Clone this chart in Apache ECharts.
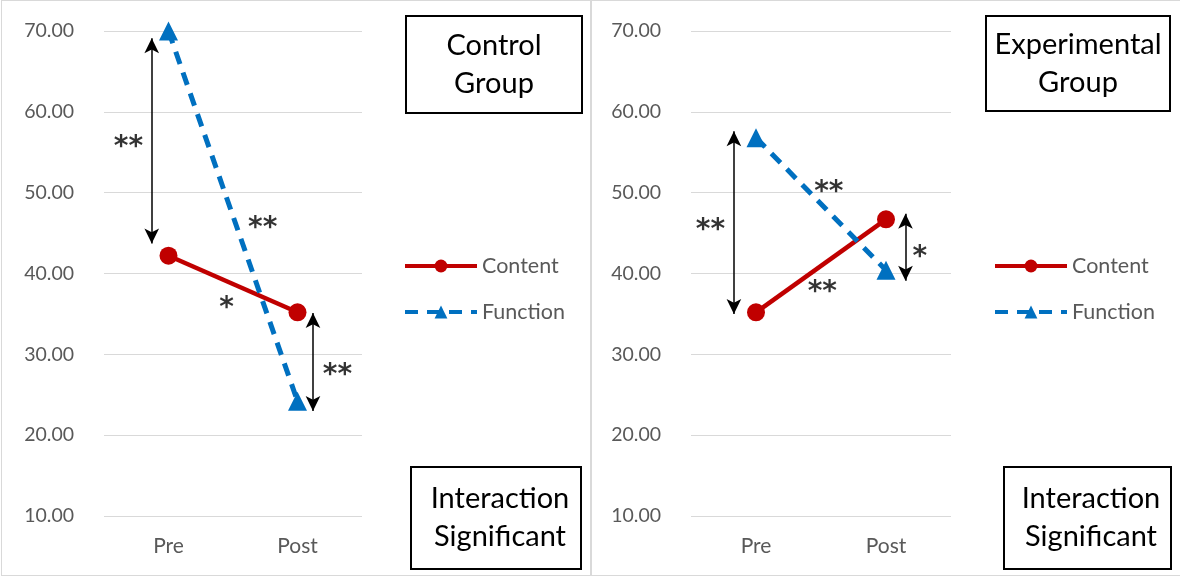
<!DOCTYPE html>
<html>
<head>
<meta charset="utf-8">
<script src="https://cdn.jsdelivr.net/npm/echarts@6/dist/echarts.min.js"></script>
<style>
  body { margin: 0; background: #fff; }
  .panel { position: absolute; top: 0; width: 588px; height: 574px; border: 1px solid #d9d9d9; background: #fff; }
</style>
</head>
<body>
<div id="left" class="panel" style="left:1px"></div>
<div id="right" class="panel" style="left:591px"></div>
<script>
// categories and means
const categories = ['Pre', 'Post'];
const controlContent = [42.2, 35.2];
const controlFunction = [70.0, 24.2];
const expContent = [35.2, 46.7];
const expFunction = [56.8, 40.4];

// significance arrows: [x position (Pre=0, Post=1), from, to]
const controlArrows = [[-0.13, 69.1, 43.7], [1.12, 35.1, 23.0]];
const expArrows = [[-0.17, 57.6, 35.0], [1.15, 47.4, 39.1]];
// star marks: [x, y, text]
const controlStars = [[-0.31, 55.6, '**'], [0.73, 45.5, '**'], [0.45, 35.7, '*'], [1.31, 27.3, '**']];
const expStars = [[0.56, 50.0, '**'], [-0.35, 45.3, '**'], [0.51, 37.6, '**'], [1.26, 42.0, '*']];

const FONT = 'Lato, "Noto Sans", sans-serif';

function box(x, y, w, h, txt, tx) {
  return {
    type: 'group',
    children: [
      { type: 'rect', shape: { x: x, y: y, width: w, height: h }, style: { fill: '#fff', stroke: '#000', lineWidth: 2 } },
      { type: 'text', x: tx, y: y + h / 2, style: { text: txt, font: '29px ' + FONT, fill: '#000', align: 'center', verticalAlign: 'middle', lineHeight: 38 } }
    ]
  };
}

function makeChart(el, content, func, arrows, stars, gridLeft, gridWidth, boxes) {
  const chart = echarts.init(document.getElementById(el));
  const option = {
    animation: false,
    textStyle: { fontFamily: FONT },
    grid: { left: gridLeft, top: 30, width: gridWidth, height: 485 },
    legend: {
      data: ['Content', 'Function'],
      orient: 'vertical',
      left: 396, top: 249,
      itemWidth: 72, itemHeight: 16, itemGap: 24,
      lineStyle: { width: 4 },
      textStyle: { fontSize: 21.5, color: '#595959', fontFamily: FONT }
    },
    xAxis: [
      {
        type: 'category', data: categories,
        axisLine: { show: false }, axisTick: { show: false },
        axisLabel: { fontSize: 21, color: '#595959', margin: 20 }
      },
      { type: 'value', min: -0.5, max: 1.5, show: false }
    ],
    yAxis: {
      type: 'value', min: 10, max: 70, interval: 10,
      axisLine: { show: false }, axisTick: { show: false },
      axisLabel: { fontSize: 19.5, color: '#595959', margin: 30, formatter: v => v.toFixed(2) },
      splitLine: { lineStyle: { color: '#d9d9d9', width: 1 } }
    },
    series: [
      {
        name: 'Content', type: 'line', data: content,
        symbol: 'circle', symbolSize: 18,
        lineStyle: { color: '#C00000', width: 4.5 },
        itemStyle: { color: '#C00000' }
      },
      {
        name: 'Function', type: 'line', data: func,
        symbol: 'triangle', symbolSize: 19,
        lineStyle: { color: '#0070C0', width: 5, type: [13, 9], cap: 'butt' },
        itemStyle: { color: '#0070C0' }
      },
      {
        name: 'notes', type: 'scatter', xAxisIndex: 1, silent: true,
        symbolSize: 0, z: 5,
        data: stars.map(s => ({ value: [s[0], s[1]], label: { formatter: s[2] } })),
        label: { show: true, position: 'inside', fontSize: 28, fontWeight: 'bold', color: '#000', fontFamily: 'DejaVu Sans' },
        markLine: {
          silent: true, animation: false,
          symbol: ['arrow', 'arrow'], symbolSize: [11, 15],
          lineStyle: { color: '#000', width: 1.5, type: 'solid' },
          label: { show: false },
          emphasis: { disabled: true },
          data: arrows.map(a => [{ coord: [a[0], a[1]] }, { coord: [a[0], a[2]] }])
        }
      }
    ],
    graphic: boxes
  };
  chart.setOption(option);
  return chart;
}

makeChart('left', controlContent, controlFunction, controlArrows, controlStars, 102, 258, [
  box(404, 15, 176, 97, 'Control\nGroup', 492),
  box(409, 466, 170, 102, 'Interaction\nSignificant', 498)
]);
makeChart('right', expContent, expFunction, expArrows, expStars, 99, 260, [
  box(394, 15, 184, 95, 'Experimental\nGroup', 486),
  box(412, 466, 167, 102, 'Interaction\nSignificant', 499)
]);
</script>
</body>
</html>
